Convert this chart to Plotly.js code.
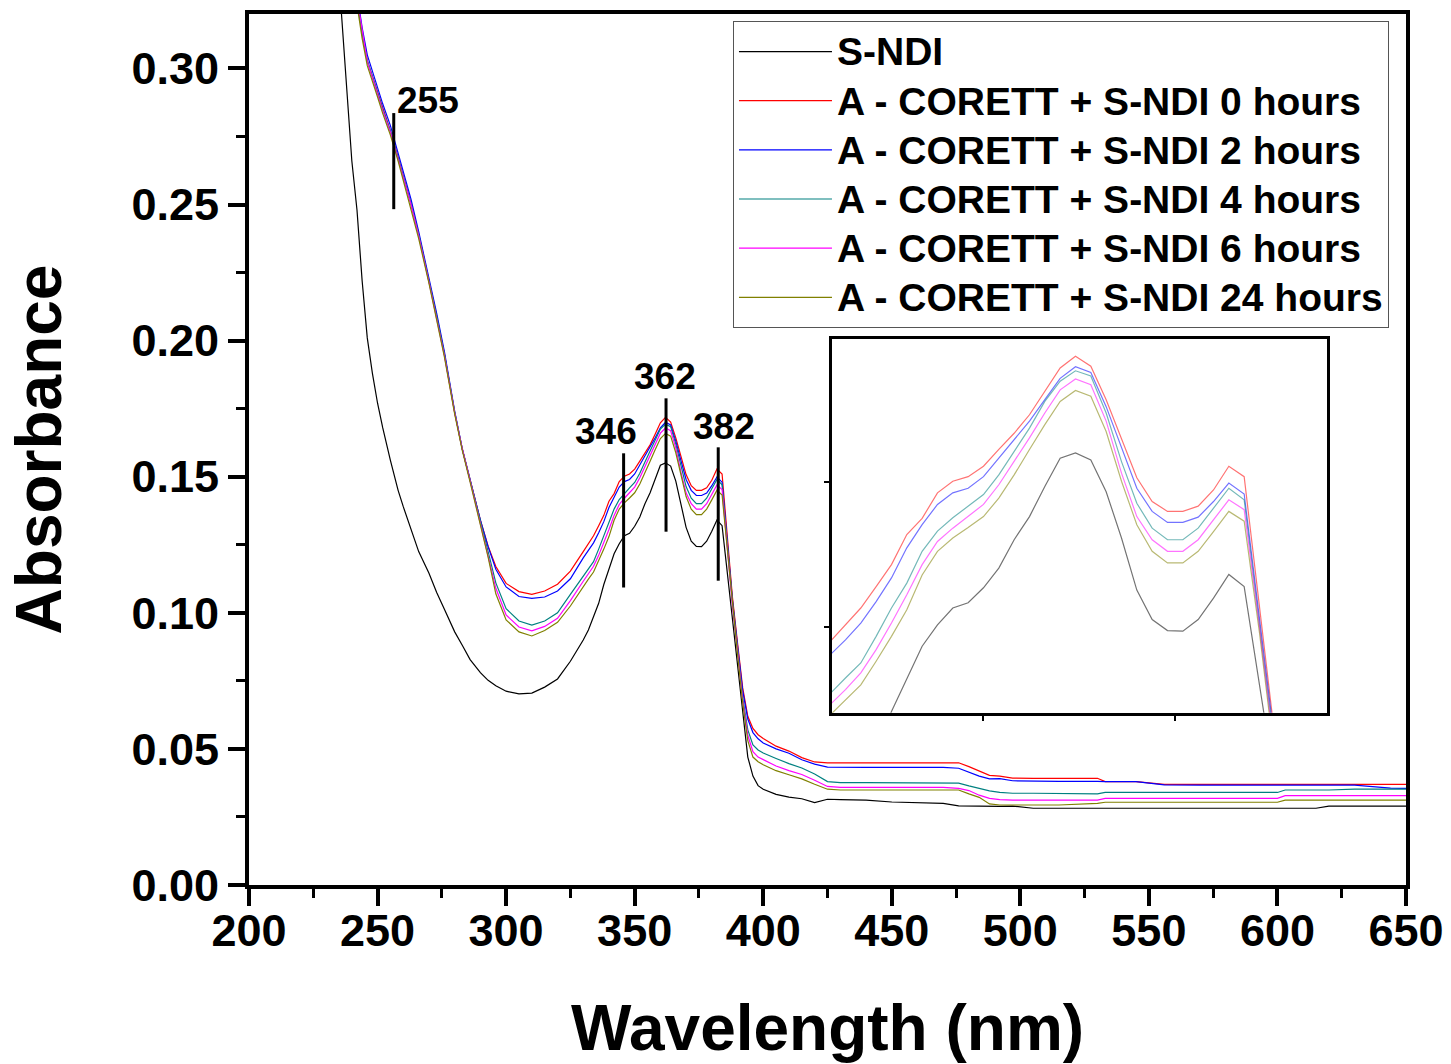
<!DOCTYPE html>
<html>
<head>
<meta charset="utf-8">
<script src="https://cdn.plot.ly/plotly-3.0.1.min.js"></script>
<style>html,body{margin:0;padding:0;background:#fff;}#chart{width:1451px;height:1064px;}</style>
</head>
<body>
<div id="chart"></div>
<script>
// Wavelength grid (nm)
const wavelength = [
  235, 237, 240, 242, 244, 246, 248, 250, 252, 255, 258, 260, 263, 266, 270, 273, 276, 280, 283, 286,
  290, 293, 296, 300, 305, 310, 315, 320, 325, 330,
  332, 334, 336, 338, 340, 342, 344, 346, 348, 350, 352, 354, 356, 358, 360, 362, 364, 366, 368, 370,
  372, 374, 376, 378, 380, 382, 384,
  386, 388, 390, 392, 394, 396, 398, 400,
  405, 410, 415, 420, 425, 430, 440, 450, 460, 470, 476, 480, 484, 488, 492, 497, 505, 515, 530, 533,
  545, 556, 570, 585, 600, 603, 615, 620, 630, 644, 650
];

const sNDI = [
  0.333, 0.305, 0.266, 0.248, 0.222, 0.201, 0.188, 0.177, 0.168, 0.156, 0.145, 0.139, 0.131, 0.1225, 0.1145, 0.1075, 0.1013, 0.093, 0.088, 0.0828,
  0.078, 0.0752, 0.0732, 0.0712, 0.0702, 0.0705, 0.0727, 0.0757, 0.0822, 0.090,
  0.0937, 0.0985, 0.1035, 0.1104, 0.1162, 0.1217, 0.1254, 0.1283, 0.1292, 0.1318, 0.1352, 0.1401, 0.1441, 0.1493, 0.1542, 0.1551, 0.1539, 0.1484, 0.1404, 0.1314,
  0.1263, 0.1244, 0.1243, 0.1263, 0.1300, 0.1341, 0.1320,
  0.115, 0.098, 0.080, 0.063, 0.047, 0.040, 0.0365, 0.0352,
  0.0333, 0.0323, 0.0317, 0.0303, 0.0315, 0.0314, 0.0312, 0.0305, 0.0303, 0.0300, 0.0291, 0.0290, 0.0290, 0.0290, 0.0289, 0.0290, 0.0282, 0.0282, 0.0282, 0.0282,
  0.0282, 0.0282, 0.0282, 0.0282, 0.0282, 0.0282, 0.0282, 0.0290, 0.0290, 0.0290, 0.0290
];

const hours0 = [
  null, null, 0.338, 0.326, 0.313, 0.3028, 0.297, 0.291, 0.285, 0.277, 0.2673, 0.2605, 0.2503, 0.239, 0.222, 0.209, 0.195, 0.1735, 0.160, 0.1488,
  0.134, 0.1245, 0.1170, 0.1108, 0.1078, 0.1068, 0.108, 0.1105, 0.1153, 0.1225,
  0.1254, 0.1283, 0.1320, 0.1358, 0.1410, 0.1438, 0.1482, 0.1502, 0.1510, 0.1528, 0.1557, 0.1585, 0.1617, 0.1657, 0.1698, 0.1718, 0.1701, 0.1643, 0.1577, 0.1508,
  0.1467, 0.1450, 0.1450, 0.1459, 0.1487, 0.1528, 0.1510,
  0.128, 0.106, 0.089, 0.0725, 0.062, 0.0575, 0.0552, 0.0538,
  0.0510, 0.0492, 0.0468, 0.0452, 0.0449, 0.0449, 0.0449, 0.0449, 0.0449, 0.0449, 0.0449, 0.0435, 0.0418, 0.0403, 0.0400, 0.0393, 0.0392, 0.0392, 0.0392, 0.0380,
  0.0380, 0.0370, 0.0370, 0.0370, 0.0370, 0.0370, 0.0370, 0.0370, 0.0370, 0.0370, 0.0370
];

const hours2 = [
  null, null, 0.340, 0.328, 0.315, 0.305, 0.299, 0.293, 0.287, 0.279, 0.269, 0.262, 0.252, 0.240, 0.223, 0.210, 0.196, 0.174, 0.160, 0.1488,
  0.134, 0.1243, 0.1160, 0.1095, 0.1060, 0.1053, 0.1058, 0.1080, 0.1125, 0.1202,
  0.1228, 0.1257, 0.1294, 0.1335, 0.1387, 0.1427, 0.1462, 0.1482, 0.1490, 0.1510, 0.1542, 0.1574, 0.1606, 0.1643, 0.1680, 0.1700, 0.1690, 0.1631, 0.1559, 0.1490,
  0.1450, 0.1431, 0.1431, 0.1440, 0.1467, 0.1499, 0.1480,
  0.127, 0.105, 0.088, 0.0715, 0.061, 0.056, 0.0537, 0.0522,
  0.0500, 0.0484, 0.0460, 0.0444, 0.0433, 0.0432, 0.0432, 0.0432, 0.0432, 0.0432, 0.0429, 0.0415, 0.0400, 0.0390, 0.0391, 0.0383, 0.0381, 0.0381, 0.0381, 0.0380,
  0.0380, 0.0368, 0.0367, 0.0367, 0.0367, 0.0367, 0.0367, 0.0367, 0.0367, 0.0356, 0.0355
];

const hours4 = [
  null, null, 0.338, 0.326, 0.313, 0.303, 0.297, 0.291, 0.285, 0.277, 0.2673, 0.2605, 0.2503, 0.239, 0.222, 0.209, 0.195, 0.1738, 0.160, 0.149,
  0.1335, 0.1225, 0.1110, 0.1015, 0.0970, 0.0955, 0.0970, 0.1000, 0.1068, 0.1136,
  0.1162, 0.1188, 0.1234, 0.1283, 0.1326, 0.1381, 0.1416, 0.1439, 0.1459, 0.1479, 0.1513, 0.1554, 0.1594, 0.1640, 0.1675, 0.1693, 0.1684, 0.1620, 0.1536, 0.1464,
  0.1421, 0.1401, 0.1401, 0.1421, 0.1456, 0.1490, 0.1470,
  0.126, 0.104, 0.087, 0.069, 0.057, 0.0515, 0.0496, 0.0485,
  0.0465, 0.0446, 0.0430, 0.0408, 0.0380, 0.0376, 0.0376, 0.0376, 0.0376, 0.0376, 0.0374, 0.0364, 0.0355, 0.0346, 0.0340, 0.0337, 0.0337, 0.0336, 0.0335, 0.0340,
  0.0340, 0.0340, 0.0340, 0.0340, 0.0340, 0.0349, 0.0349, 0.0349, 0.0352, 0.0352, 0.0352
];

const hours6 = [
  null, null, 0.338, 0.326, 0.313, 0.3025, 0.2965, 0.2905, 0.2845, 0.2765, 0.267, 0.260, 0.250, 0.2385, 0.2215, 0.2085, 0.1945, 0.1735, 0.160, 0.1485,
  0.133, 0.1215, 0.1090, 0.0992, 0.0948, 0.0934, 0.0950, 0.0980, 0.1045, 0.1116,
  0.1142, 0.1171, 0.1211, 0.1257, 0.1306, 0.1358, 0.1398, 0.1421, 0.1441, 0.1462, 0.1496, 0.1536, 0.1577, 0.1620, 0.1660, 0.1679, 0.1669, 0.1606, 0.1516, 0.1441,
  0.1401, 0.1381, 0.1381, 0.1401, 0.1436, 0.1470, 0.1453,
  0.125, 0.103, 0.086, 0.068, 0.055, 0.049, 0.047, 0.0460,
  0.0437, 0.0420, 0.0406, 0.0385, 0.0362, 0.0359, 0.0359, 0.0359, 0.0359, 0.0359, 0.0355, 0.0347, 0.0330, 0.0318, 0.0314, 0.0312, 0.0312, 0.0312, 0.0312, 0.0318,
  0.0318, 0.0318, 0.0318, 0.0318, 0.0318, 0.0328, 0.0328, 0.0328, 0.0328, 0.0328, 0.0328
];

const hours24 = [
  null, null, 0.336, 0.324, 0.311, 0.301, 0.2955, 0.2895, 0.2835, 0.2755, 0.266, 0.259, 0.249, 0.2375, 0.221, 0.208, 0.194, 0.173, 0.1595, 0.148,
  0.1325, 0.1205, 0.1070, 0.0974, 0.0930, 0.0915, 0.0935, 0.0965, 0.1025, 0.1098,
  0.1124, 0.1150, 0.1191, 0.1234, 0.1280, 0.1340, 0.1381, 0.1404, 0.1422, 0.1441, 0.1473, 0.1513, 0.1557, 0.1600, 0.1640, 0.1659, 0.1649, 0.1588, 0.1502, 0.1427,
  0.1381, 0.1361, 0.1361, 0.1381, 0.1415, 0.1450, 0.1433,
  0.124, 0.102, 0.085, 0.067, 0.053, 0.047, 0.0453, 0.0442,
  0.0420, 0.0405, 0.0390, 0.0370, 0.0352, 0.0349, 0.0349, 0.0349, 0.0349, 0.0349, 0.0349, 0.0335, 0.0322, 0.0298, 0.0294, 0.0294, 0.0294, 0.0294, 0.0300, 0.0304,
  0.0304, 0.0304, 0.0304, 0.0304, 0.0304, 0.0312, 0.0312, 0.0312, 0.0312, 0.0312, 0.0312
];

const seriesNames = [
  'S-NDI',
  'A - CORETT + S-NDI 0 hours',
  'A - CORETT + S-NDI 2 hours',
  'A - CORETT + S-NDI 4 hours',
  'A - CORETT + S-NDI 6 hours',
  'A - CORETT + S-NDI 24 hours'
];
const seriesValues = [sNDI, hours0, hours2, hours4, hours6, hours24];
const seriesColors = ['#000000', '#ff0000', '#0000ff', '#008080', '#ff00ff', '#808000'];

// Peak markers
const peakLabels = ['255', '346', '362', '382'];
const peakX = [256.3, 345.7, 362.2, 382.5];
const peakLineLow = [0.2483, 0.1093, 0.1298, 0.1118];
const peakLineHigh = [0.2836, 0.1586, 0.1788, 0.1608];
const peakLabelX = [269.6, 338.9, 361.8, 384.8];
const peakLabelY = [0.2884, 0.1665, 0.187, 0.1684];

seriesValues.forEach((s, i) => {
  if (s.length !== wavelength.length) throw new Error('length mismatch in ' + seriesNames[i] + ': ' + s.length + ' vs ' + wavelength.length);
});

const FONT = 'Liberation Sans, Arial, Helvetica, sans-serif';
const traces = [];
seriesValues.forEach((vals, i) => {
  traces.push({
    x: wavelength, y: vals, type: 'scatter', mode: 'lines',
    name: '<span style="font-size:39px">' + seriesNames[i] + '</span>',
    line: {color: seriesColors[i], width: 1.2}, xaxis: 'x', yaxis: 'y', connectgaps: false
  });
});
seriesValues.forEach((vals, i) => {
  traces.push({
    x: wavelength, y: vals, type: 'scatter', mode: 'lines', name: seriesNames[i],
    line: {color: seriesColors[i], width: 1.2}, opacity: 0.55, showlegend: false,
    xaxis: 'x2', yaxis: 'y2', hoverinfo: 'skip'
  });
});

const shapes = [];
const annotations = [];
peakLabels.forEach((lab, i) => {
  shapes.push({type: 'line', xref: 'x', yref: 'y', x0: peakX[i], x1: peakX[i], y0: peakLineLow[i], y1: peakLineHigh[i],
    line: {color: '#000', width: 3}});
  annotations.push({xref: 'x', yref: 'y', x: peakLabelX[i], y: peakLabelY[i], text: lab, showarrow: false,
    xanchor: 'center', yanchor: 'middle', font: {family: FONT, size: 37, color: '#000', weight: 'bold'}});
});
// inset background
shapes.push({type: 'rect', xref: 'x2 domain', yref: 'y2 domain', x0: 0, x1: 1, y0: 0, y1: 1,
  fillcolor: '#f8f8f8', line: {width: 0}, layer: 'below'});

const layout = {
  width: 1451, height: 1064,
  margin: {l: 249, r: 45, t: 14, b: 179, pad: 0},
  paper_bgcolor: '#ffffff', plot_bgcolor: '#ffffff',
  font: {family: FONT, color: '#000'},
  showlegend: true,
  legend: {
    x: 0.4183, y: 0.992, xanchor: 'left', yanchor: 'top',
    bgcolor: '#ffffff', bordercolor: '#555555', borderwidth: 1,
    font: {family: FONT, size: 35.5, color: '#000', weight: 'bold'},
    itemwidth: 93, tracegroupgap: 0
  },
  xaxis: {
    domain: [0, 1], range: [200, 650], tickmode: 'array', tickvals: [200, 250, 300, 350, 400, 450, 500, 550, 600, 650],
    ticks: 'outside', ticklen: 17, tickwidth: 4, tickcolor: '#000', ticklabelstandoff: -14,
    minor: {ticks: 'outside', ticklen: 9, tickwidth: 3, tickcolor: '#000', dtick: 25, tick0: 0, showgrid: false},
    showline: true, linewidth: 4, linecolor: '#000', mirror: true,
    showgrid: false, zeroline: false,
    tickfont: {family: FONT, size: 45, color: '#000', weight: 'bold'},
    title: {text: 'Wavelength (nm)', font: {family: FONT, size: 64, color: '#000', weight: 'bold'}, standoff: 52},
    anchor: 'y'
  },
  yaxis: {
    domain: [0, 1], range: [0, 0.32], tickmode: 'array', tickvals: [0, 0.05, 0.10, 0.15, 0.20, 0.25, 0.30],
    ticktext: ['0.00', '0.05', '0.10', '0.15', '0.20', '0.25', '0.30'],
    ticks: 'outside', ticklen: 17, tickwidth: 4, tickcolor: '#000',
    minor: {ticks: 'outside', ticklen: 9, tickwidth: 3, tickcolor: '#000', dtick: 0.025, tick0: 0, showgrid: false},
    showline: true, linewidth: 4, linecolor: '#000', mirror: true,
    showgrid: false, zeroline: false,
    tickfont: {family: FONT, size: 45, color: '#000', weight: 'bold'},
    title: {text: 'Absorbance', font: {family: FONT, size: 64, color: '#000', weight: 'bold'}, standoff: 50},
    anchor: 'x'
  },
  xaxis2: {
    domain: [0.5036, 0.9317], range: [330.2, 394.8], anchor: 'y2',
    tickmode: 'array', tickvals: [350, 375], ticks: 'outside', ticklen: 5, tickwidth: 2, tickcolor: '#000',
    showticklabels: false, showline: true, linewidth: 3, linecolor: '#000', mirror: true,
    showgrid: false, zeroline: false
  },
  yaxis2: {
    domain: [0.1978, 0.6269], range: [0.1102, 0.1748], anchor: 'x2',
    tickmode: 'array', tickvals: [0.125, 0.15], ticks: 'outside', ticklen: 5, tickwidth: 2, tickcolor: '#000',
    showticklabels: false, showline: true, linewidth: 3, linecolor: '#000', mirror: true,
    showgrid: false, zeroline: false
  },
  shapes: shapes,
  annotations: annotations
};

Plotly.newPlot('chart', traces, layout, {staticPlot: true, displayModeBar: false});
</script>
</body>
</html>
